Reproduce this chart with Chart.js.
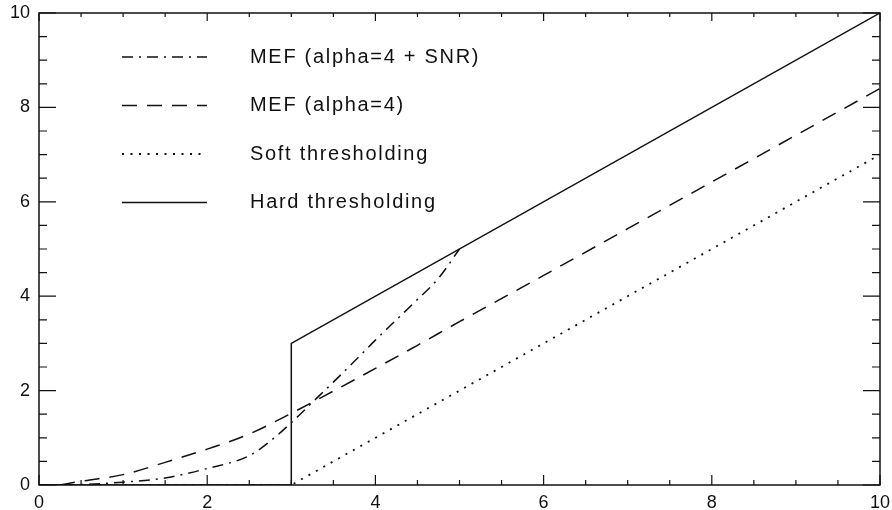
<!DOCTYPE html>
<html>
<head>
<meta charset="utf-8">
<script src="https://cdn.jsdelivr.net/npm/chart.js@4.4.1/dist/chart.umd.min.js"></script>
<style>
  html, body { margin: 0; padding: 0; background: #fff; }
  #wrap { width: 892px; height: 510px; }
</style>
</head>
<body>
<div id="wrap"><canvas id="chrt" width="892" height="510"></canvas></div>
<script>
// series
const LABELS = ["MEF (alpha=4 + SNR)", "MEF (alpha=4)", "Soft thresholding", "Hard thresholding"];

const snrX = [0, 0.5, 1, 1.5, 2, 2.5, 2.75, 3, 3.25, 3.5, 3.75, 4, 4.25, 4.5, 4.75, 5];
const snrY = [0, 0.01, 0.06, 0.15, 0.35, 0.62, 0.93, 1.32, 1.75, 2.18, 2.62, 3.07, 3.5, 3.93, 4.38, 5.0];

const mefX = [0.25, 0.5, 1, 1.5, 2, 2.5, 3, 3.5, 4, 4.5, 5, 6, 7, 8, 9, 10];
const mefY = [0, 0.08, 0.22, 0.48, 0.76, 1.08, 1.52, 1.99, 2.47, 2.96, 3.46, 4.44, 5.43, 6.42, 7.41, 8.4];

const softX = [0, 3, 10];
const softY = [0, 0, 7];

const hardX = [0, 3, 3, 10];
const hardY = [0, 0, 3, 10];

const X_TICKS = [0, 2, 4, 6, 8, 10];
const Y_TICKS = [0, 2, 4, 6, 8, 10];
const MINOR_STEP = 0.5;

const FONT = "'Liberation Sans', Arial, sans-serif";

function pts(xs, ys) {
  return xs.map((x, i) => ({ x: x, y: ys[i] }));
}

function mkSet(label, xs, ys, dash, smooth, w) {
  return {
    label: label,
    data: pts(xs, ys),
    borderColor: "#111",
    borderWidth: w || 1.5,
    borderDash: dash,
    pointRadius: 0,
    fill: false,
    tension: smooth ? 0.4 : 0,
    cubicInterpolationMode: smooth ? "monotone" : "default",
  };
}

// frame + inward ticks on all four sides, IDL style
const frameTicks = {
  id: "frameTicks",
  afterDatasetsDraw(chart) {
    const { ctx, chartArea: a, scales } = chart;
    const sx = scales.x, sy = scales.y;
    ctx.save();
    ctx.strokeStyle = "#111";
    ctx.lineWidth = 1.5;
    ctx.setLineDash([]);
    ctx.strokeRect(a.left, a.top, a.right - a.left, a.bottom - a.top);
    ctx.lineWidth = 1.2;
    ctx.beginPath();
    for (let v = 0; v <= 10 + 1e-9; v += MINOR_STEP) {
      const major = X_TICKS.includes(v);
      const px = sx.getPixelForValue(v);
      const lx = major ? 10 : 5;
      ctx.moveTo(px, a.bottom); ctx.lineTo(px, a.bottom - lx);
      ctx.moveTo(px, a.top); ctx.lineTo(px, a.top + lx * 0.8);
      const py = sy.getPixelForValue(v);
      const ly = Y_TICKS.includes(v) ? 17 : 8;
      ctx.moveTo(a.left, py); ctx.lineTo(a.left + ly, py);
      ctx.moveTo(a.right, py); ctx.lineTo(a.right - ly, py);
    }
    ctx.stroke();
    ctx.restore();
  },
};

// legend drawn inside the plot, upper left
const inLegend = {
  id: "inLegend",
  afterDraw(chart) {
    const ctx = chart.ctx;
    ctx.save();
    ctx.font = "20px " + FONT;
    ctx.fillStyle = "#111";
    ctx.textBaseline = "middle";
    ctx.letterSpacing = "1.7px";
    chart.data.datasets.forEach((ds, i) => {
      const y = 57 + i * 48.5;
      ctx.strokeStyle = ds.borderColor;
      ctx.lineWidth = ds.borderWidth;
      ctx.setLineDash(ds.borderDash || []);
      ctx.beginPath();
      ctx.moveTo(122, y);
      ctx.lineTo(207, y);
      ctx.stroke();
      ctx.fillText(ds.label, 250, y);
    });
    ctx.restore();
  },
};

// let the plot box run to the edges like the original (labels may clip)
function noLabelPad(s) {
  s.paddingLeft = 0;
  s.paddingRight = 0;
  s.paddingTop = 0;
  s.paddingBottom = 0;
}

new Chart(document.getElementById("chrt"), {
  type: "line",
  data: {
    datasets: [
      mkSet(LABELS[0], snrX, snrY, [11, 6, 2, 6], true),
      mkSet(LABELS[1], mefX, mefY, [15, 10], true),
      mkSet(LABELS[2], softX, softY, [2, 6.5], false, 1.8),
      mkSet(LABELS[3], hardX, hardY, [], false),
    ],
  },
  options: {
    responsive: false,
    animation: false,
    layout: { padding: { top: 13, right: 12, left: 0, bottom: 0 } },
    plugins: {
      legend: { display: false },
      tooltip: { enabled: false },
    },
    scales: {
      x: {
        type: "linear",
        min: 0,
        max: 10,
        afterBuildTicks: (s) => { s.ticks = X_TICKS.map((v) => ({ value: v })); },
        afterFit: (s) => { s.height = 25; noLabelPad(s); },
        grid: { display: false, drawTicks: false },
        border: { display: false },
        ticks: {
          color: "#111",
          font: { family: FONT, size: 18 },
          padding: 7,
          maxRotation: 0,
        },
      },
      y: {
        type: "linear",
        min: 0,
        max: 10,
        afterBuildTicks: (s) => { s.ticks = Y_TICKS.map((v) => ({ value: v })); },
        afterFit: (s) => { s.width = 39; noLabelPad(s); },
        grid: { display: false, drawTicks: false },
        border: { display: false },
        ticks: {
          color: "#111",
          font: { family: FONT, size: 18 },
          padding: 9,
        },
      },
    },
  },
  plugins: [frameTicks, inLegend],
});
</script>
</body>
</html>
